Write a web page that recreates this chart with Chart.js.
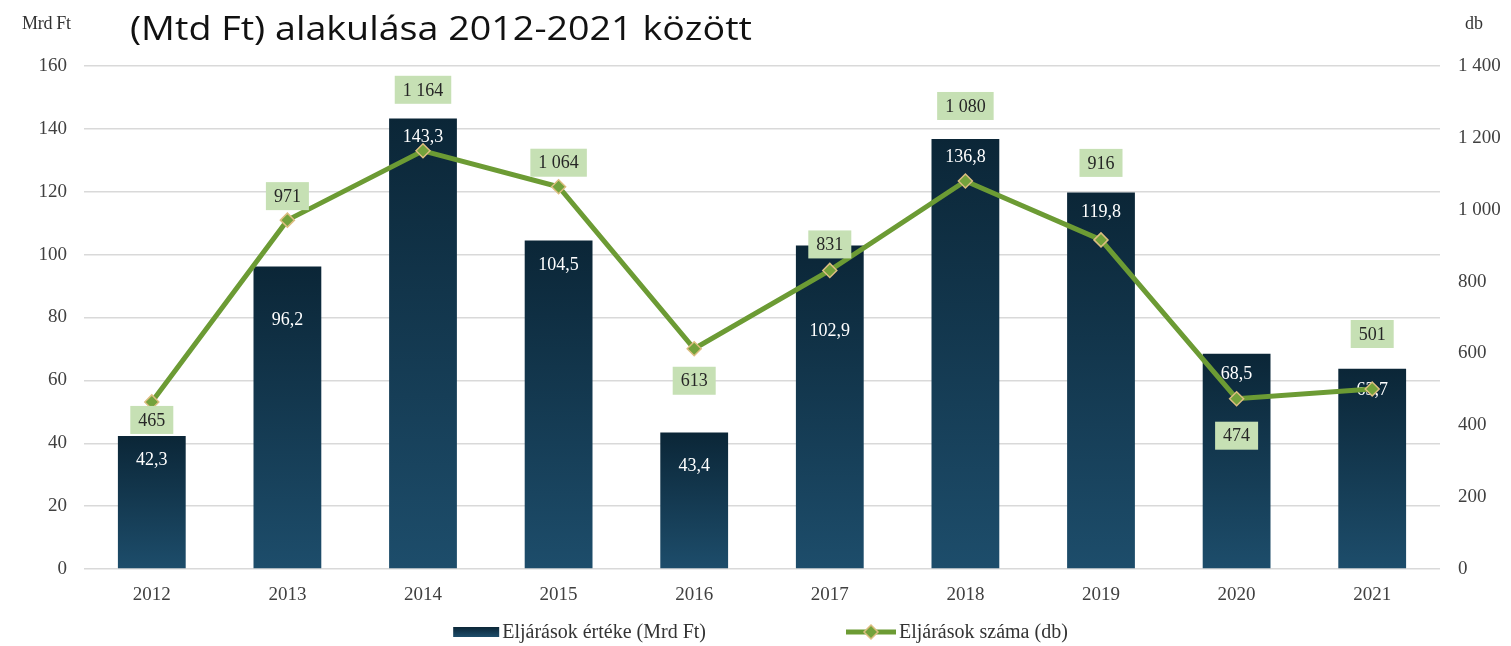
<!DOCTYPE html>
<html>
<head>
<meta charset="utf-8">
<script src="https://cdn.jsdelivr.net/npm/chart.js@4.4.0/dist/chart.umd.min.js"></script>
<style>
  html, body { margin: 0; padding: 0; background: #ffffff; }
  #wrap { position: relative; width: 1511px; height: 646px; overflow: hidden; }
  #c { position: absolute; left: 0; top: 0; }
  .title { position: absolute; left: 130px; top: 5px; font-family: "Open Sans", sans-serif; font-size: 33px; color: #111; white-space: nowrap; transform-origin: 0 0; }
  .unitL { position: absolute; left: 22px; top: 13px; font-family: "Liberation Serif", serif; font-size: 18px; color: #333; letter-spacing: -0.3px; }
  .unitR { position: absolute; left: 1465px; top: 13px; font-family: "Liberation Serif", serif; font-size: 18px; color: #333; }
</style>
</head>
<body>
<div id="wrap">
  <canvas id="c" width="1511" height="646"></canvas>
  <div class="title" id="title">(Mtd Ft) alakulása 2012-2021 között</div>
  <div class="unitL">Mrd Ft</div>
  <div class="unitR">db</div>
</div>
<script>
// ---- data ----
const years = ['2012','2013','2014','2015','2016','2017','2018','2019','2020','2021'];
const valueMrdFt = [42.3, 96.2, 143.3, 104.5, 43.4, 102.9, 136.8, 119.8, 68.5, 63.7];
const countDb = [465, 971, 1164, 1064, 613, 831, 1080, 916, 474, 501];
const leftTicks = [0, 20, 40, 60, 80, 100, 120, 140, 160];
const rightTicks = [0, 200, 400, 600, 800, 1000, 1200, 1400];
const seriesNames = ['Eljárások értéke (Mrd Ft)', 'Eljárások száma (db)'];

// label placement (pixel offsets, not data)
const barLabelDy = [24, 54, 19, 25, 34, 86, 18, 20, 21, 22];
const lineLabelDy = [18, -24, -61, -24, 32, -26, -75, -77, 37, -55];

const SERIF = '"Liberation Serif", "Times New Roman", serif';
const GREEN = '#6c9b34';
const BAR_TOP = '#0b2637';
const BAR_BOT = '#1d4d6b';

// fit title to the reference width
(function () {
  const t = document.getElementById('title');
  const w = t.getBoundingClientRect().width;
  if (w > 0) t.style.transform = 'scaleX(' + (622 / w) + ')';
})();

function fmtSpace(v) { return String(v).replace(/\B(?=(\d{3})+(?!\d))/g, ' '); }
function fmtComma(v) { return v.toFixed(1).replace('.', ','); }

const labelsPlugin = {
  id: 'labelsPlugin',
  afterDatasetDraw(chart, args) {
    const ctx = chart.ctx;
    if (args.index === 0) {
      const meta = chart.getDatasetMeta(0);
      ctx.save();
      ctx.font = '18px ' + SERIF;
      ctx.fillStyle = '#ffffff';
      ctx.textAlign = 'center';
      ctx.textBaseline = 'middle';
      meta.data.forEach((el, i) => {
        ctx.fillText(fmtComma(valueMrdFt[i]), el.x, el.y + barLabelDy[i]);
      });
      ctx.restore();
    }
  },
  afterDatasetsDraw(chart) {
    const ctx = chart.ctx;
    const meta = chart.getDatasetMeta(1);
    ctx.save();
    ctx.font = '18px ' + SERIF;
    ctx.textAlign = 'center';
    ctx.textBaseline = 'middle';
    meta.data.forEach((el, i) => {
      const txt = fmtSpace(countDb[i]);
      const w = ctx.measureText(txt).width + 16;
      const h = 28;
      const cx = el.x, cy = el.y + lineLabelDy[i];
      ctx.fillStyle = '#c6e0b4';
      ctx.fillRect(cx - w / 2, cy - h / 2, w, h);
      ctx.fillStyle = '#262626';
      ctx.fillText(txt, cx, cy + 1);
    });
    ctx.restore();
  },
  afterDraw(chart) {
    // legend
    const ctx = chart.ctx;
    ctx.save();
    ctx.font = '20px ' + SERIF;
    const t1 = ctx.measureText(seriesNames[0]).width;
    const t2 = ctx.measureText(seriesNames[1]).width;
    const sw1 = 46, sw2 = 50, gapTxt = 3, gapItems = 140;
    const total = sw1 + gapTxt + t1 + gapItems + sw2 + gapTxt + t2;
    let x = chart.width / 2 + 5 - total / 2;
    const y = 632;
    const g = ctx.createLinearGradient(0, y - 5, 0, y + 5);
    g.addColorStop(0, BAR_TOP); g.addColorStop(1, BAR_BOT);
    ctx.fillStyle = g;
    ctx.fillRect(x, y - 5, sw1, 10);
    ctx.fillStyle = '#333333';
    ctx.textBaseline = 'middle';
    ctx.textAlign = 'left';
    ctx.fillText(seriesNames[0], x + sw1 + gapTxt, y + 1);
    x += sw1 + gapTxt + t1 + gapItems;
    ctx.strokeStyle = GREEN; ctx.lineWidth = 5;
    ctx.beginPath(); ctx.moveTo(x, y); ctx.lineTo(x + sw2, y); ctx.stroke();
    const cx = x + sw2 / 2;
    ctx.beginPath();
    ctx.moveTo(cx, y - 7); ctx.lineTo(cx + 7, y); ctx.lineTo(cx, y + 7); ctx.lineTo(cx - 7, y); ctx.closePath();
    ctx.fillStyle = '#74a23c'; ctx.fill();
    ctx.strokeStyle = '#dcbd80'; ctx.lineWidth = 1.5; ctx.stroke();
    ctx.fillStyle = '#333333';
    ctx.fillText(seriesNames[1], x + sw2 + gapTxt, y + 1);
    ctx.restore();
  }
};

new Chart(document.getElementById('c'), {
  data: {
    labels: years,
    datasets: [
      {
        type: 'bar',
        label: seriesNames[0],
        data: valueMrdFt,
        yAxisID: 'y',
        order: 1,
        categoryPercentage: 1,
        barPercentage: 0.5,
        borderWidth: 0,
        backgroundColor: (c) => {
          const chart = c.chart;
          if (!chart.chartArea || c.type !== 'data') return BAR_BOT;
          const ys = chart.scales.y;
          const top = ys.getPixelForValue(c.raw);
          const bot = ys.getPixelForValue(0);
          const g = chart.ctx.createLinearGradient(0, top, 0, bot);
          g.addColorStop(0, BAR_TOP);
          g.addColorStop(1, BAR_BOT);
          return g;
        }
      },
      {
        type: 'line',
        label: seriesNames[1],
        data: countDb,
        yAxisID: 'y1',
        order: 0,
        borderColor: GREEN,
        borderWidth: 5,
        tension: 0,
        pointStyle: 'rectRot',
        pointRadius: 7,
        pointHoverRadius: 7,
        pointBackgroundColor: '#74a23c',
        pointBorderColor: '#dcbd80',
        pointBorderWidth: 1.5
      }
    ]
  },
  options: {
    responsive: false,
    animation: false,
    devicePixelRatio: 1,
    layout: { padding: { top: 66, left: 0, right: 0, bottom: 33 } },
    plugins: { legend: { display: false }, tooltip: { enabled: false } },
    scales: {
      x: {
        grid: { display: false, drawTicks: false },
        border: { display: false },
        ticks: { font: { family: SERIF, size: 19 }, color: '#404040', padding: 15 },
        afterFit: (s) => { s.height = 44; }
      },
      y: {
        position: 'left',
        min: 0, max: 160,
        afterBuildTicks: (s) => { s.ticks = leftTicks.map(v => ({ value: v })); },
        grid: { color: '#d9d9d9', lineWidth: 1.5, drawTicks: false },
        border: { display: false },
        ticks: { font: { family: SERIF, size: 19 }, color: '#404040', padding: 17 },
        afterFit: (s) => { s.width = 84; }
      },
      y1: {
        position: 'right',
        min: 0, max: 1400,
        afterBuildTicks: (s) => { s.ticks = rightTicks.map(v => ({ value: v })); },
        grid: { display: false, drawTicks: false },
        border: { display: false },
        ticks: { font: { family: SERIF, size: 19 }, color: '#404040', padding: 18, callback: (v) => fmtSpace(v) },
        afterFit: (s) => { s.width = 71; }
      }
    }
  },
  plugins: [labelsPlugin]
});
</script>
</body>
</html>
